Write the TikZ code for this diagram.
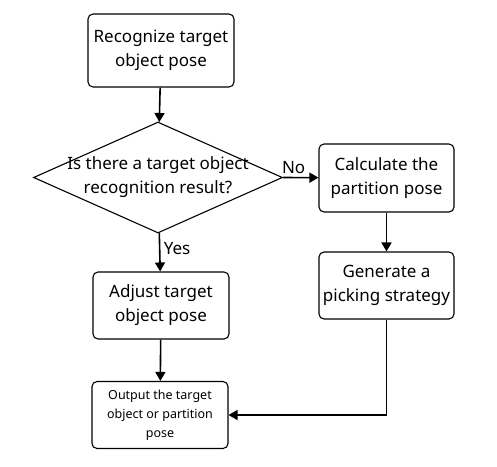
\documentclass[tikz,border=0pt]{standalone}
\usepackage{fontspec}
\setmainfont{Noto Sans}
\usetikzlibrary{shapes.geometric, arrows.meta, positioning, calc}

\begin{document}
\begin{tikzpicture}[x=1pt, y=-1pt, auto,
        stepbox/.style={rectangle, draw, line width=1.1pt, rounded corners=5pt, align=center, minimum width=136pt, minimum height=67pt, inner sep=0pt, font=\fontsize{17}{24}\selectfont},
        decision/.style={diamond, draw, line width=1.1pt, minimum width=249pt, minimum height=111pt, inner sep=0pt},
        line/.style={draw, -{Triangle[length=9pt, width=10pt]}, line width=1.6pt}]
        \useasboundingbox (0,0) rectangle (497,466);

        \node [stepbox, minimum width=146pt, minimum height=73pt] (rec) at (161,50.5) {Recognize target\\object pose};
        \node [decision] (dec) at (158,177.5) {};
        \node [align=center, font=\fontsize{17}{24}\selectfont] (dectext) at (dec) {Is there a target object\\recognition result?};
        \node [stepbox] (adj) at (161,305.5) {Adjust target\\object pose};
        \node [stepbox, font=\fontsize{12.5}{19}\selectfont] (out) at (160,415) {Output the target\\object or partition\\pose};
        \node [stepbox, minimum width=135pt, minimum height=68pt] (calc) at (386.5,178) {Calculate the\\partition pose};
        \node [stepbox, minimum width=135pt] (gen) at (386.5,285.5) {Generate a\\picking strategy};

        \path [line] (rec) -- (dec);
        \path [line] (dec) -- node [right, font=\fontsize{17}{20}\selectfont, pos=0.4] {Yes} (adj);
        \path [line] (dec.east) -- node [above, font=\fontsize{17}{20}\selectfont, pos=0.3] {No} (calc);
        \path [line] (calc) -- (gen);
        \path [line] (adj) -- (out);
        \path [line] (gen.south) |- (out.east);
    \end{tikzpicture}
\end{document}
